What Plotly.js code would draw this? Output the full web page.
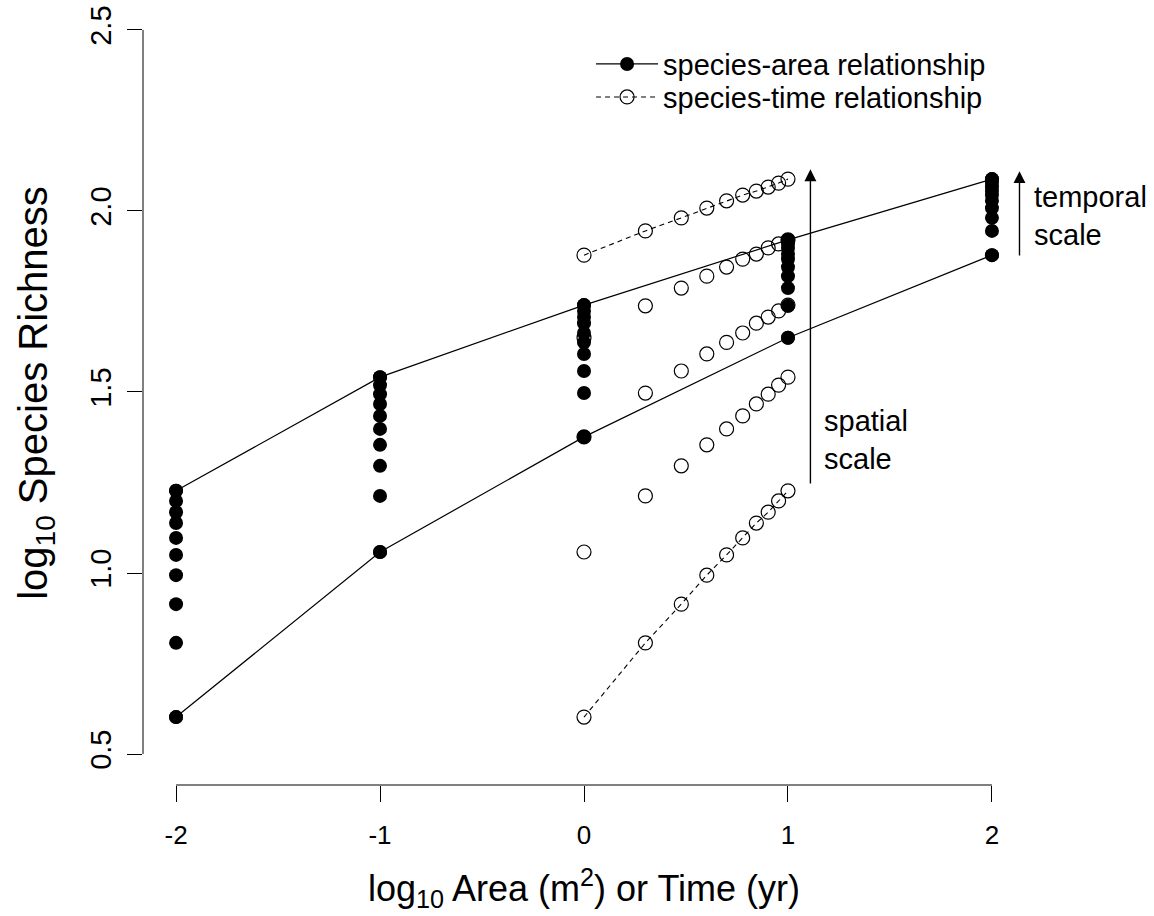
<!DOCTYPE html>
<html>
<head>
<meta charset="utf-8">
<script src="https://cdn.plot.ly/plotly-3.0.1.min.js"></script>
<style>html,body{margin:0;padding:0;background:#fff;}#chart{width:1154px;height:916px;}</style>
</head>
<body>
<div id="chart"></div>
<script>
// log10 of sampling duration (1..10 yr)
const logTime = [0, 0.301, 0.477, 0.602, 0.699, 0.778, 0.845, 0.903, 0.954, 1];
// log10 area classes
const logArea = [-2, -1, 0, 1, 2];
// log10 species richness per area class, across durations 1..10 yr
const richAreaM2 = [0.602, 0.807, 0.914, 0.994, 1.050, 1.097, 1.138, 1.168, 1.199, 1.227];
const richAreaM1 = [1.058, 1.213, 1.296, 1.354, 1.398, 1.434, 1.467, 1.494, 1.519, 1.541];
const richArea0  = [1.376, 1.497, 1.558, 1.605, 1.637, 1.663, 1.690, 1.707, 1.724, 1.740];
const richArea1  = [1.650, 1.738, 1.787, 1.820, 1.845, 1.867, 1.881, 1.898, 1.909, 1.920];
const richArea2  = [1.878, 1.945, 1.981, 2.008, 2.028, 2.044, 2.055, 2.066, 2.077, 2.088];
const xTickVals = [-2, -1, 0, 1, 2];
const xTickText = ["-2", "-1", "0", "1", "2"];
const yTickVals = [0.5, 1.0, 1.5, 2.0, 2.5];
const yTickText = ["0.5", "1.0", "1.5", "2.0", "2.5"];
const labelArea = "species-area relationship";
const labelTime = "species-time relationship";

const allRich = [richAreaM2, richAreaM1, richArea0, richArea1, richArea2];
const FONT = '"Liberation Sans", Arial, sans-serif';
const MS = 14;
const DASH = '5px,4px';
const traces = [];

// open circles (species-time) without lines for middle area classes
[richAreaM1, richArea0, richArea1].forEach(r => {
  traces.push({x: logTime, y: r, mode: 'markers', type: 'scatter', showlegend: false,
    marker: {symbol: 'circle-open', size: MS, color: 'black', line: {width: 1.2}}});
});
// dashed species-time curves for smallest and largest area
traces.push({x: logTime, y: richArea2, mode: 'lines+markers', type: 'scatter', showlegend: false,
  line: {color: 'black', width: 1.1, dash: DASH},
  marker: {symbol: 'circle-open', size: MS, color: 'black', line: {width: 1.2}}});
traces.push({x: logTime, y: richAreaM2, mode: 'lines+markers', type: 'scatter', name: labelTime, legend: 'legend2',
  line: {color: 'black', width: 1.1, dash: DASH},
  marker: {symbol: 'circle-open', size: MS, color: 'black', line: {width: 1.2}}});
// filled columns (species-area) at each area class
allRich.forEach((r, i) => {
  traces.push({x: r.map(() => logArea[i]), y: r, mode: 'markers', type: 'scatter', showlegend: false,
    marker: {symbol: 'circle', size: MS, color: 'black'}});
});
// solid species-area lines for shortest and longest duration
const shortest = allRich.map(r => r[0]);
const longest = allRich.map(r => r[r.length - 1]);
traces.push({x: logArea, y: longest, mode: 'lines+markers', type: 'scatter', showlegend: false,
  line: {color: 'black', width: 1.2}, marker: {symbol: 'circle', size: MS, color: 'black'}});
traces.push({x: logArea, y: shortest, mode: 'lines+markers', type: 'scatter', name: labelArea, legend: 'legend',
  line: {color: 'black', width: 1.2}, marker: {symbol: 'circle', size: MS, color: 'black'}});

const legendCommon = {xanchor: 'left', yanchor: 'middle', bgcolor: 'rgba(0,0,0,0)',
  font: {family: FONT, size: 29, color: 'black'}, itemwidth: 62};

const layout = {
  width: 1154, height: 916,
  paper_bgcolor: 'white', plot_bgcolor: 'white',
  margin: {l: 143, r: 129, t: 1, b: 131, pad: 0},
  font: {family: FONT, color: 'black', size: 25},
  showlegend: true,
  legend: Object.assign({x: 0.508, y: 0.9195}, legendCommon),
  legend2: Object.assign({x: 0.508, y: 0.8774}, legendCommon),
  xaxis: {range: [-2.162, 2.162], showgrid: false, zeroline: false, showline: false,
    tickmode: 'array', tickvals: xTickVals, ticktext: xTickText,
    ticks: 'outside', ticklen: 16, tickwidth: 1, tickcolor: 'black',
    tickfont: {family: FONT, size: 26, color: 'black'}, ticklabelstandoff: 11,
    title: {text: 'log<sub>10</sub> Area (m<sup>2</sup>) or Time (yr)', font: {family: FONT, size: 36, color: 'black'}, standoff: 26},
    automargin: false},
  yaxis: {range: [0.4144, 2.58], showgrid: false, zeroline: false, showline: false,
    tickmode: 'array', tickvals: yTickVals, ticktext: yTickText, tickangle: -90,
    ticks: 'outside', ticklen: 15, tickwidth: 1, tickcolor: 'black',
    tickfont: {family: FONT, size: 29, color: 'black'}, ticklabelstandoff: 4,
    title: {text: 'log<sub>10</sub> Species Richness', font: {family: FONT, size: 40, color: 'black'}, standoff: 25},
    automargin: false},
  shapes: [
    {type: 'line', xref: 'x', yref: 'paper', x0: xTickVals[0], x1: xTickVals[xTickVals.length - 1], y0: 0, y1: 0, line: {color: 'black', width: 1}},
    {type: 'line', xref: 'paper', yref: 'y', x0: 0, x1: 0, y0: yTickVals[0], y1: yTickVals[yTickVals.length - 1], line: {color: 'black', width: 1}}
  ],
  annotations: [
    {xref: 'x', yref: 'y', axref: 'x', ayref: 'y', x: 1.11, y: 2.115, ax: 1.11, ay: 1.243, text: '', showarrow: true,
      arrowhead: 2, arrowsize: 1.7, arrowwidth: 1.4, arrowcolor: 'black'},
    {xref: 'x', yref: 'y', axref: 'x', ayref: 'y', x: 2.135, y: 2.11, ax: 2.135, ay: 1.873, text: '', showarrow: true,
      arrowhead: 2, arrowsize: 1.7, arrowwidth: 1.4, arrowcolor: 'black'},
    {xref: 'x', yref: 'y', x: 1.165, y: 1.367, xanchor: 'left', yanchor: 'middle', align: 'left', showarrow: false,
      text: 'spatial<br>scale', font: {family: FONT, size: 29, color: 'black'}},
    {xref: 'paper', yref: 'y', x: 1.008, y: 1.985, xanchor: 'left', yanchor: 'middle', align: 'left', showarrow: false,
      text: 'temporal<br>scale', font: {family: FONT, size: 29, color: 'black'}}
  ]
};

Plotly.newPlot('chart', traces, layout, {displayModeBar: false, staticPlot: true});
</script>
</body>
</html>
